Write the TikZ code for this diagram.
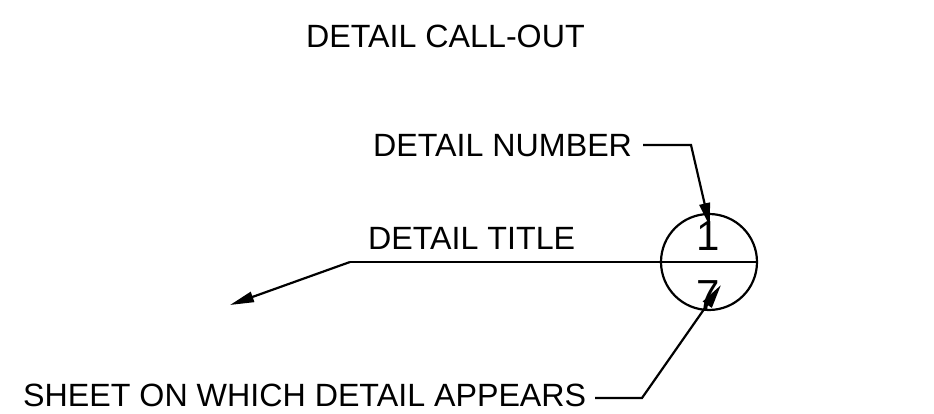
\documentclass[tikz,border=0pt]{standalone}
\usepackage{fontspec}
\setmainfont{Liberation Sans}
\usetikzlibrary{arrows.meta}
\begin{document}
\begin{tikzpicture}[x=1pt,y=1pt,
  lbl/.style={inner sep=0pt, anchor=base west, font=\fontsize{32.2}{34}\selectfont},
  digit/.style={inner sep=0pt, font=\fontsize{42}{44}\selectfont},
  ln/.style={line width=2.2pt},
  tip/.style={-{Triangle[length=24pt,width=10.5pt]}}]
\useasboundingbox (0,0) rectangle (934,414);
\node[lbl] (title) at (306,366) {DETAIL CALL-OUT};
\node[lbl] (num) at (373,257) {DETAIL NUMBER};
\node[lbl] (ttl) at (368,164) {DETAIL TITLE};
\node[lbl] (sheet) at (23,7) {SHEET ON WHICH DETAIL APPEARS};
\node[circle, draw, line width=2.2pt, minimum size=96pt, inner sep=0pt] (c) at (709,152) {};
\node[digit] (one) at (708,178) {1};
\node[digit] (seven) at (708,119) {7};
\coordinate (tl) at (350,152);
\coordinate (tipL) at (230,109);
\coordinate (n0) at (643,269);
\coordinate (n1) at (691,269);
\coordinate (nt) at (710,187);
\coordinate (s0) at (595,16);
\coordinate (s1) at (642,16);
\coordinate (st) at (721,129);
\draw[ln] (tl) -- (c.east);
\draw[ln,tip] (tl) -- (tipL);
\draw[ln,tip] (n0) -- (n1) -- (nt);
\draw[ln,tip] (s0) -- (s1) -- (st);
\end{tikzpicture}
\end{document}
